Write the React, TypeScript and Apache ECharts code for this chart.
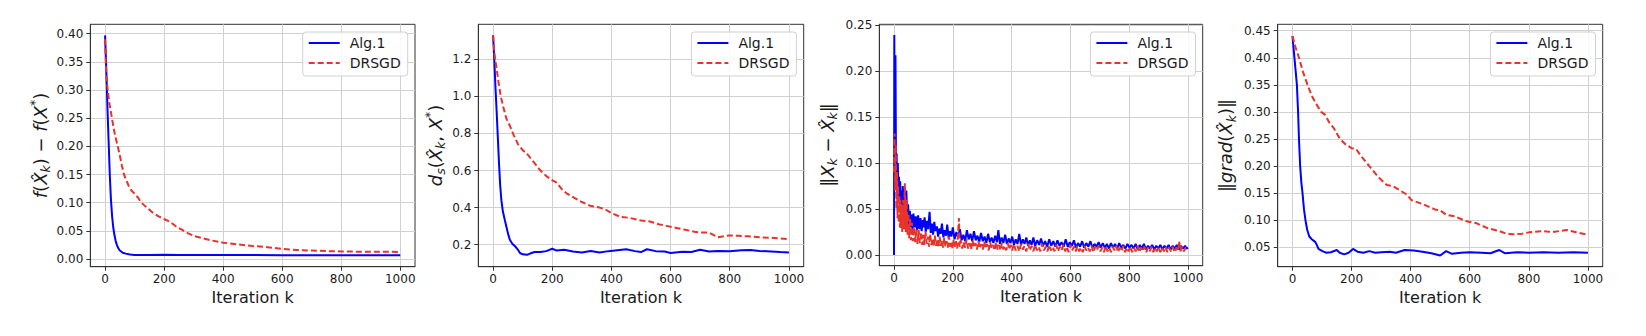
import React, { useEffect, useRef } from "react";
import * as echarts from "echarts";

const FONT = "DejaVu Sans";
const BLUE = "#0000ff";
const RED = "#e8322a";

const seriesNames = ["Alg.1", "DRSGD"];
const xTicks = [0, 200, 400, 600, 800, 1000];

const yTicks1 = [0, 0.05, 0.1, 0.15, 0.2, 0.25, 0.3, 0.35, 0.4];
const yTicks2 = [0.2, 0.4, 0.6, 0.8, 1.0, 1.2];
const yTicks3 = [0, 0.05, 0.1, 0.15, 0.2, 0.25];
const yTicks4 = [0.05, 0.1, 0.15, 0.2, 0.25, 0.3, 0.35, 0.4, 0.45];

// Panel 1: f(X̂k) − f(X*)
const p1Alg = [[0,0.397],[4,0.34],[8,0.27],[12,0.21],[16,0.15],[20,0.105],[24,0.075],[28,0.055],[32,0.042],[36,0.032],[40,0.025],[45,0.019],[50,0.015],[60,0.011],[70,0.0095],[85,0.008],[100,0.0072],[150,0.0071],[200,0.0074],[250,0.0071],[400,0.0071],[500,0.0069],[600,0.0068],[800,0.0067],[1000,0.0066]];
const p1Dr = [[0,0.39],[3,0.34],[6,0.315],[10,0.295],[15,0.275],[20,0.26],[25,0.245],[30,0.23],[35,0.217],[43,0.2],[50,0.184],[57,0.166],[63,0.152],[70,0.142],[80,0.13],[90,0.121],[100,0.116],[110,0.11],[123,0.1],[140,0.092],[160,0.083],[180,0.076],[200,0.071],[220,0.066],[240,0.058],[260,0.052],[280,0.046],[300,0.041],[330,0.037],[360,0.033],[400,0.029],[450,0.026],[500,0.023],[550,0.021],[600,0.018],[650,0.016],[700,0.015],[750,0.014],[800,0.0135],[850,0.013],[900,0.013],[950,0.0128],[1000,0.0124]];

// Panel 2: ds(X̂k, X*)
const p2Alg = [[0,1.33],[4,1.2],[8,1.05],[12,0.92],[16,0.78],[20,0.64],[24,0.52],[28,0.44],[33,0.38],[40,0.33],[46,0.29],[52,0.25],[57,0.225],[65,0.205],[75,0.19],[83,0.175],[91,0.155],[100,0.148],[115,0.145],[125,0.152],[140,0.16],[160,0.16],[180,0.165],[200,0.178],[215,0.168],[240,0.172],[270,0.163],[300,0.158],[330,0.166],[360,0.158],[390,0.165],[420,0.17],[450,0.175],[480,0.165],[500,0.16],[520,0.175],[550,0.165],[580,0.163],[600,0.155],[640,0.162],[670,0.16],[700,0.172],[730,0.163],[760,0.166],[800,0.164],[840,0.17],[870,0.171],[900,0.166],[940,0.163],[970,0.16],[1000,0.158]];
const p2Dr = [[0,1.33],[4,1.24],[7,1.2],[12,1.15],[18,1.08],[26,1.0],[35,0.94],[45,0.88],[57,0.84],[70,0.79],[85,0.74],[100,0.71],[115,0.69],[130,0.66],[145,0.63],[160,0.6],[180,0.57],[202,0.545],[215,0.535],[232,0.5],[250,0.475],[272,0.455],[300,0.43],[328,0.41],[360,0.4],[380,0.39],[400,0.37],[430,0.35],[460,0.345],[500,0.33],[530,0.325],[560,0.31],[590,0.3],[620,0.29],[650,0.28],[680,0.27],[700,0.265],[730,0.265],[760,0.24],[780,0.245],[800,0.25],[830,0.248],[860,0.245],[900,0.24],[950,0.236],[1000,0.23]];

// Panel 3: ‖Xk − X̂k‖
const p3Alg = [[0,0],[1,0.239],[3,0.09],[5,0.217],[7,0.08],[9,0.11],[11,0.065],[13,0.1],[15,0.06],[17,0.085],[19,0.055],[21,0.08],[23,0.05],[25,0.07],[27,0.048],[30,0.075],[33,0.045],[36,0.068],[39,0.042],[42,0.07],[45,0.04],[48,0.055],[51,0.032],[54,0.048],[57,0.03],[60,0.044],[63,0.028],[66,0.045],[70,0.03],[74,0.042],[78,0.027],[82,0.043],[86,0.028],[90,0.04],[94,0.026],[98,0.038],
  [100,0.03],[104,0.041],[108,0.025],[112,0.037],[116,0.028],[121,0.047],[125,0.024],[129,0.034],[133,0.022],[137,0.036],[141,0.026],[146,0.031],[150,0.02],[155,0.029],[159,0.023],[163,0.034],[168,0.019],[172,0.027],[177,0.021],[181,0.033],[186,0.018],[190,0.026],[195,0.02],[200,0.03],[206,0.017],[212,0.025],[218,0.019],[224,0.028],[230,0.016],[236,0.022],[242,0.015],[248,0.027],[254,0.017],[260,0.023],[266,0.015],[272,0.026],[278,0.016],[284,0.021],[290,0.014],[296,0.024],[302,0.015],[308,0.02],[314,0.013],[320,0.023],[326,0.014],[332,0.019],[338,0.013],[344,0.021],[350,0.014],[355,0.027],[360,0.012],[366,0.019],[372,0.013],[378,0.022],[384,0.012],[390,0.018],[396,0.013],[402,0.02],[408,0.011],[414,0.017],[420,0.012],[426,0.023],[432,0.011],[438,0.017],[444,0.012],[450,0.019],[456,0.01],[462,0.016],[468,0.011],[474,0.019],[480,0.01],[487,0.016],[494,0.011],[500,0.018],[507,0.01],[514,0.015],[521,0.009],[528,0.017],[535,0.01],[542,0.015],[549,0.009],[556,0.016],[563,0.01],[570,0.014],[577,0.009],[584,0.017],[591,0.009],[598,0.014],[605,0.01],[612,0.016],[619,0.008],[626,0.013],[633,0.009],[640,0.015],[647,0.008],[654,0.013],[661,0.009],[668,0.015],[675,0.008],[682,0.012],[689,0.009],[696,0.014],[703,0.008],[710,0.013],[717,0.008],[724,0.012],[731,0.007],[738,0.013],[745,0.008],[752,0.012],[759,0.007],[766,0.013],[773,0.008],[780,0.011],[787,0.007],[794,0.012],[801,0.008],[808,0.011],[815,0.007],[822,0.012],[829,0.006],[836,0.011],[843,0.007],[850,0.012],[857,0.006],[864,0.01],[871,0.007],[878,0.011],[885,0.006],[892,0.01],[899,0.007],[906,0.011],[913,0.006],[920,0.01],[927,0.007],[934,0.011],[941,0.006],[948,0.01],[955,0.007],[962,0.011],[969,0.006],[976,0.01],[983,0.007],[990,0.01],[995,0.007],[1000,0.008]];
const p3Dr = [[0,0.09],[2,0.132],[4,0.07],[6,0.12],[8,0.05],[10,0.09],[12,0.04],[14,0.075],[16,0.035],[18,0.065],[20,0.03],[22,0.06],[24,0.028],[26,0.055],[28,0.025],[31,0.06],[34,0.028],[37,0.078],[40,0.025],[43,0.06],[46,0.022],[49,0.045],[52,0.018],[55,0.04],[58,0.016],[61,0.035],[64,0.015],[68,0.03],[72,0.014],[76,0.028],[80,0.012],[84,0.027],[88,0.013],[92,0.025],[96,0.011],
  [100,0.022],[103,0.011],[107,0.026],[111,0.012],[115,0.02],[119,0.009],[123,0.023],[127,0.011],[131,0.018],[135,0.009],[139,0.021],[143,0.01],[147,0.017],[151,0.008],[155,0.02],[159,0.01],[163,0.016],[167,0.008],[171,0.019],[175,0.009],[179,0.015],[183,0.008],[187,0.02],[191,0.009],[195,0.014],[199,0.007],[203,0.017],[207,0.009],[211,0.015],[215,0.007],[219,0.03],[221,0.04],[223,0.009],[227,0.016],[232,0.007],[237,0.014],[242,0.008],[247,0.017],[252,0.007],[257,0.013],[262,0.006],[267,0.016],[272,0.008],[277,0.013],[282,0.006],[287,0.015],[292,0.007],[297,0.012],[302,0.006],[307,0.015],[312,0.007],[317,0.012],[322,0.005],[327,0.014],[332,0.007],[337,0.011],[342,0.005],[347,0.014],[352,0.006],[357,0.011],[362,0.005],[367,0.013],[372,0.006],[377,0.01],[382,0.005],[387,0.013],[392,0.006],[397,0.011],[402,0.005],[408,0.012],[414,0.005],[420,0.01],[426,0.004],[432,0.012],[438,0.006],[444,0.01],[450,0.004],[456,0.012],[462,0.005],[468,0.01],[474,0.004],[480,0.011],[486,0.005],[492,0.009],[498,0.004],[504,0.012],[510,0.005],[516,0.009],[522,0.004],[528,0.011],[534,0.005],[540,0.009],[546,0.004],[552,0.011],[558,0.004],[564,0.009],[570,0.005],[576,0.011],[582,0.004],[588,0.009],[594,0.003],[600,0.011],[606,0.005],[612,0.009],[618,0.004],[624,0.01],[630,0.004],[636,0.008],[642,0.003],[648,0.01],[654,0.005],[660,0.008],[666,0.004],[672,0.01],[678,0.003],[684,0.009],[690,0.005],[696,0.01],[702,0.004],[708,0.008],[714,0.003],[720,0.01],[726,0.004],[732,0.008],[738,0.003],[744,0.009],[750,0.005],[756,0.01],[762,0.003],[768,0.008],[774,0.004],[780,0.01],[786,0.003],[792,0.008],[798,0.004],[804,0.009],[810,0.003],[816,0.008],[822,0.004],[828,0.01],[834,0.003],[840,0.008],[846,0.004],[852,0.009],[858,0.003],[864,0.008],[870,0.004],[876,0.009],[882,0.003],[888,0.008],[894,0.004],[900,0.009],[906,0.003],[912,0.008],[918,0.004],[924,0.009],[930,0.003],[936,0.008],[942,0.004],[948,0.009],[954,0.003],[960,0.008],[966,0.004],[970,0.015],[974,0.004],[980,0.009],[986,0.004],[992,0.008],[1000,0.006]];

// Panel 4: ‖grad(X̂k)‖
const p4Alg = [[0,0.44],[5,0.41],[10,0.38],[15,0.35],[19,0.3],[22,0.25],[26,0.2],[30,0.17],[34,0.15],[39,0.12],[44,0.1],[50,0.082],[57,0.07],[65,0.065],[77,0.06],[82,0.055],[88,0.047],[95,0.045],[105,0.042],[115,0.04],[130,0.041],[150,0.045],[160,0.04],[175,0.037],[190,0.04],[205,0.047],[220,0.042],[240,0.04],[260,0.043],[280,0.04],[300,0.041],[330,0.042],[350,0.04],[380,0.045],[410,0.044],[440,0.042],[470,0.039],[500,0.035],[520,0.043],[540,0.038],[570,0.04],[600,0.041],[640,0.04],[670,0.039],[700,0.045],[720,0.039],[760,0.041],[800,0.04],[850,0.041],[900,0.04],[950,0.041],[1000,0.04]];
const p4Dr = [[0,0.44],[10,0.42],[22,0.4],[35,0.375],[51,0.35],[65,0.33],[80,0.315],[97,0.3],[110,0.295],[125,0.28],[140,0.27],[161,0.25],[180,0.24],[200,0.233],[215,0.232],[230,0.22],[260,0.2],[290,0.18],[319,0.165],[340,0.163],[364,0.155],[385,0.148],[403,0.137],[440,0.13],[482,0.12],[500,0.118],[521,0.11],[550,0.107],[589,0.098],[620,0.095],[662,0.085],[700,0.08],[724,0.075],[750,0.074],[777,0.075],[803,0.078],[848,0.08],[880,0.078],[927,0.082],[960,0.078],[1000,0.073]];

const panels = [
  { left: 90.3, top: 24.3, width: 324.7, height: 242.4, yMin: -0.0137, yMax: 0.4167, yTicks: yTicks1, dec: 2, name: "{i|f}({i|X̂}{sub|k}) − {i|f}({i|X}{sup|*})", nameGap: 38, alg: p1Alg, dr: p1Dr },
  { left: 478.3, top: 24.3, width: 325.4, height: 242.4, yMin: 0.081, yMax: 1.389, yTicks: yTicks2, dec: 1, name: "{i|d}{sub|s}({i|X̂}{sub|k}, {i|X}{sup|*})", nameGap: 31, alg: p2Alg, dr: p2Dr },
  { left: 879.3, top: 24.3, width: 323.4, height: 241.4, yMin: -0.0116, yMax: 0.2505, yTicks: yTicks3, dec: 2, name: "‖{i|X}{sub|k} − {i|X̂}{sub|k}‖", nameGap: 40, alg: p3Alg, dr: p3Dr },
  { left: 1277.7, top: 24.3, width: 325.0, height: 242.4, yMin: 0.0142, yMax: 0.4618, yTicks: yTicks4, dec: 2, name: "‖{i|grad}({i|X̂}{sub|k})‖", nameGap: 40, alg: p4Alg, dr: p4Dr },
];

const TXT = "#1a1a1a";
const AX = "#333333";

function buildOption() {
  const grid: any[] = [];
  const xAxis: any[] = [];
  const yAxis: any[] = [];
  const series: any[] = [];
  const legend: any[] = [];
  panels.forEach((p, i) => {
    grid.push({ left: p.left, top: p.top, width: p.width, height: p.height, show: true, borderColor: AX, borderWidth: 1, backgroundColor: "transparent" });
    xAxis.push({
      type: "value", gridIndex: i, min: -50, max: 1050,
      axisLine: { show: true, onZero: false, lineStyle: { color: AX } },
      axisTick: { show: true, customValues: xTicks, length: 4, lineStyle: { color: AX } },
      axisLabel: { customValues: xTicks, margin: 6, fontSize: 12, color: TXT, fontFamily: FONT, formatter: (v: number) => String(Math.round(v)) },
      splitLine: { show: true, lineStyle: { color: "#d0d0d0", width: 1 } },
      name: "Iteration k", nameLocation: "middle", nameGap: 21,
      nameTextStyle: { fontSize: 16, color: TXT, fontFamily: FONT },
    });
    yAxis.push({
      type: "value", gridIndex: i, min: p.yMin, max: p.yMax,
      axisLine: { show: true, onZero: false, lineStyle: { color: AX } },
      axisTick: { show: true, customValues: p.yTicks, length: 4, lineStyle: { color: AX } },
      axisLabel: { customValues: p.yTicks, margin: 7, fontSize: 12, color: TXT, fontFamily: FONT, formatter: (v: number) => v.toFixed(p.dec) },
      splitLine: { show: true, lineStyle: { color: "#d0d0d0", width: 1 } },
      name: p.name, nameLocation: "middle", nameGap: p.nameGap,
      nameTextStyle: {
        fontSize: 18, color: TXT, fontFamily: FONT,
        rich: {
          i: { fontSize: 18, fontStyle: "italic", fontFamily: FONT, color: TXT, lineHeight: 24 },
          sub: { fontSize: 12.5, fontStyle: "italic", fontFamily: FONT, color: TXT, verticalAlign: "bottom", lineHeight: 24 },
          sup: { fontSize: 12.5, fontFamily: FONT, color: TXT, verticalAlign: "top", lineHeight: 24 },
        },
      },
    });
    series.push({
      name: seriesNames[0], type: "line", xAxisIndex: i, yAxisIndex: i, data: p.alg,
      symbol: "none", lineStyle: { color: BLUE, width: 2 }, itemStyle: { color: BLUE },
    });
    series.push({
      name: seriesNames[1], type: "line", xAxisIndex: i, yAxisIndex: i, data: p.dr,
      symbol: "none", lineStyle: { color: RED, width: 2, type: [6, 3] }, itemStyle: { color: RED },
    });
    legend.push({
      orient: "vertical", left: p.left + p.width - 112.3, top: 32,
      itemWidth: 31, itemHeight: 14, itemGap: 6, padding: [4, 7, 6, 5],
      borderColor: "#d0d0d0", borderWidth: 1, borderRadius: 3, backgroundColor: "rgba(255,255,255,0.85)",
      itemStyle: { opacity: 0 },
      textStyle: { fontSize: 14, color: TXT, fontFamily: FONT, padding: [0, 0, 0, 5] },
      selectedMode: false, data: seriesNames,
    });
  });
  return { animation: false, backgroundColor: "#ffffff", grid, xAxis, yAxis, series, legend };
}

export default function App() {
  const ref = useRef<HTMLDivElement>(null);
  useEffect(() => {
    document.body.style.margin = "0";
    const chart = echarts.init(ref.current as HTMLDivElement, null, { renderer: "svg" });
    chart.setOption(buildOption() as any);
    return () => chart.dispose();
  }, []);
  return <div ref={ref} style={{ width: 1646, height: 336 }} />;
}
